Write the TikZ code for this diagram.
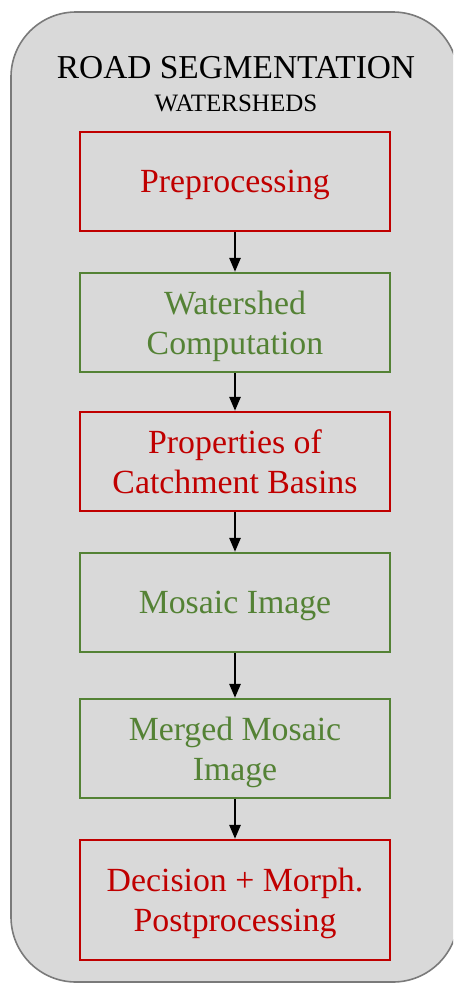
\documentclass[tikz,border=0pt]{standalone}
\usepackage{fontspec}
\setmainfont{Liberation Serif}
\usetikzlibrary{arrows.meta}
\definecolor{stagered}{HTML}{C00000}
\definecolor{stagegreen}{HTML}{548235}
\definecolor{panelfill}{HTML}{D9D9D9}
\definecolor{panelline}{HTML}{7A7A7A}
\begin{document}
\begin{tikzpicture}[>={Triangle[width=11pt,length=14pt]}]
    \tikzstyle{stage}=[draw, line width=2.2pt, minimum width=310pt, minimum height=99pt, align=center, text depth=0pt, font=\fontsize{33.8}{40}\selectfont]
    \tikzstyle{redstage}=[stage, draw=stagered, text=stagered]
    \tikzstyle{greenstage}=[stage, draw=stagegreen, text=stagegreen]
    \tikzstyle{flow}=[->, line width=2.6pt]

    \useasboundingbox (0pt,0pt) rectangle (453pt,-983pt);
    \begin{scope}
      \clip (0pt,0pt) rectangle (453pt,-983pt);
      \draw[fill=panelfill, draw=panelline, line width=1.6pt, rounded corners=65pt] (11pt,-12pt) rectangle (458pt,-982pt);
    \end{scope}

    \node[anchor=base, font=\fontsize{33.4}{36}\selectfont] (title) at (236pt,-78pt) {ROAD SEGMENTATION};
    \node[anchor=base, font=\fontsize{25}{28}\selectfont] (subtitle) at (236pt,-111pt) {WATERSHEDS};

    \node[redstage] (prep) at (235pt,-181.5pt) {Preprocessing};
    \node[greenstage, below of=prep, node distance=141pt] (wshed) {Watershed\\Computation};
    \node[redstage, below of=wshed, node distance=139pt] (basins) {Properties of\\Catchment Basins};
    \node[greenstage, below of=basins, node distance=141pt] (mosaic) {Mosaic Image};
    \node[greenstage, below of=mosaic, node distance=146pt] (merged) {Merged Mosaic\\Image};
    \node[redstage, below of=merged, node distance=151.5pt, minimum height=120pt] (decision) {Decision + Morph.\\Postprocessing};

    \draw[flow] (prep) -- (wshed);
    \draw[flow] (wshed) -- (basins);
    \draw[flow] (basins) -- (mosaic);
    \draw[flow] (mosaic) -- (merged);
    \draw[flow] (merged) -- (decision);
\end{tikzpicture}
\end{document}
